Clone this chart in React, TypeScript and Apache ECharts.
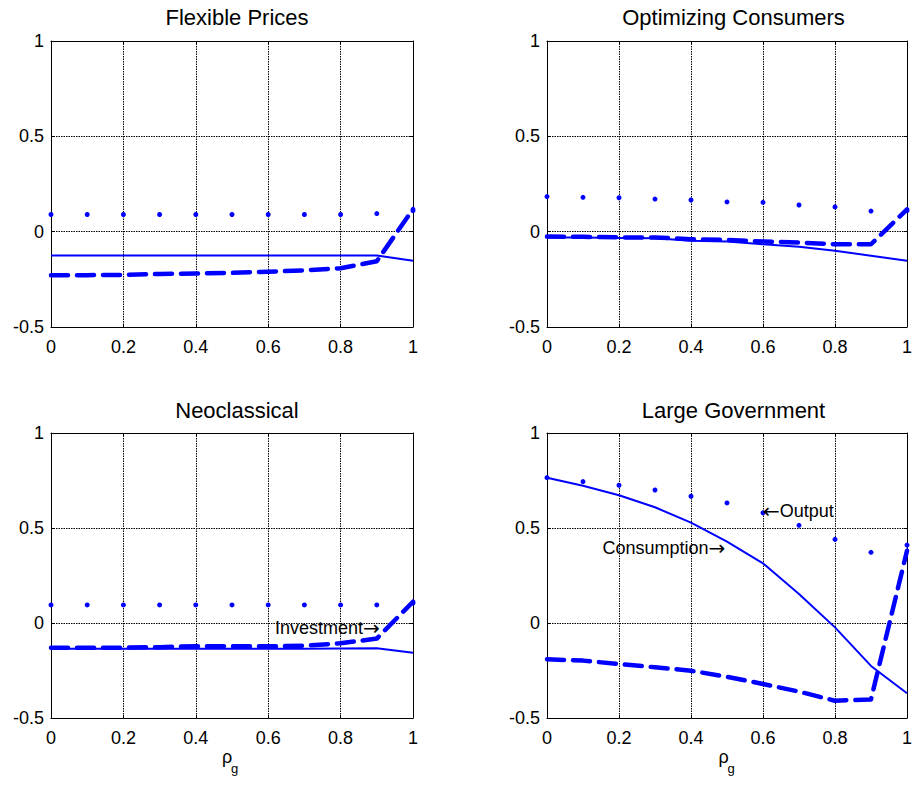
import React, { useEffect, useRef } from "react";
import * as echarts from "echarts";

const rho = [0, 0.1, 0.2, 0.3, 0.4, 0.5, 0.6, 0.7, 0.8, 0.9, 1.0];

const panelTitles = ["Flexible Prices", "Optimizing Consumers", "Neoclassical", "Large Government"];

const flexOutput = [0.09, 0.09, 0.09, 0.09, 0.09, 0.09, 0.09, 0.09, 0.09, 0.095, 0.11];
const flexConsumption = [-0.125, -0.125, -0.125, -0.125, -0.125, -0.125, -0.125, -0.125, -0.125, -0.125, -0.152];
const flexInvestment = [-0.228, -0.228, -0.227, -0.222, -0.219, -0.216, -0.21, -0.203, -0.192, -0.155, 0.118];

const optOutput = [0.184, 0.18, 0.178, 0.171, 0.166, 0.156, 0.154, 0.14, 0.13, 0.108, 0.11];
const optConsumption = [-0.03, -0.031, -0.033, -0.035, -0.047, -0.052, -0.066, -0.079, -0.1, -0.126, -0.152];
const optInvestment = [-0.026, -0.027, -0.03, -0.03, -0.04, -0.043, -0.052, -0.057, -0.066, -0.066, 0.117];

const neoOutput = [0.095, 0.095, 0.095, 0.095, 0.095, 0.095, 0.095, 0.095, 0.095, 0.095, 0.105];
const neoConsumption = [-0.135, -0.135, -0.135, -0.135, -0.135, -0.135, -0.135, -0.135, -0.134, -0.133, -0.156];
const neoInvestment = [-0.13, -0.13, -0.13, -0.127, -0.122, -0.122, -0.123, -0.12, -0.107, -0.082, 0.112];

const govOutput = [0.765, 0.744, 0.725, 0.7, 0.667, 0.632, 0.58, 0.514, 0.44, 0.372, 0.41];
const govConsumption = [0.765, 0.722, 0.672, 0.609, 0.528, 0.428, 0.314, 0.153, -0.023, -0.226, -0.37];
const govInvestment = [-0.191, -0.198, -0.216, -0.233, -0.251, -0.283, -0.321, -0.361, -0.409, -0.402, 0.38];

// annotations: [panel, x, y, label, arrow before?]
const notes: [number, number, number, string, boolean][] = [
  [2, 0.908, -0.026, "Investment", false],
  [3, 0.6, 0.59, "Output", true],
  [3, 0.495, 0.395, "Consumption", false],
];

const yTicks = [-0.5, 0, 0.5, 1];
const xTicks = [0, 0.2, 0.4, 0.6, 0.8, 1];

const FONT = "'Liberation Sans', Arial, Helvetica, sans-serif";
const BLUE = "#0000ff";

export default function App() {
  const ref = useRef<HTMLDivElement>(null);
  useEffect(() => {
    document.body.style.margin = "0";
    const chart = echarts.init(ref.current!, null, { renderer: "svg" });
    const panels = [
      { o: flexOutput, c: flexConsumption, i: flexInvestment },
      { o: optOutput, c: optConsumption, i: optInvestment },
      { o: neoOutput, c: neoConsumption, i: neoInvestment },
      { o: govOutput, c: govConsumption, i: govInvestment },
    ];
    const grids = [
      { left: 51, top: 41, width: 362, height: 286 },
      { left: 547, top: 41, width: 363, height: 286 },
      { left: 51, top: 433, width: 362, height: 285 },
      { left: 547, top: 433, width: 363, height: 285 },
    ];
    const pair = (vals: number[]) => rho.map((x, k) => [x, vals[k]]);
    const xAxis: any[] = [];
    const yAxis: any[] = [];
    const gridLine = { show: true, lineStyle: { color: "#000", type: [1.5, 1], width: 1 } };
    grids.forEach((g, gi) => {
      xAxis.push({
        type: "value", gridIndex: gi, min: xTicks[0], max: 1, interval: 0.2, position: "bottom",
        axisLine: { show: true, onZero: false, lineStyle: { color: "#000", width: 1 } },
        axisTick: { show: true, inside: true, length: 3, lineStyle: { color: "#000" } },
        axisLabel: { color: "#000", fontSize: 18, fontFamily: FONT, margin: 11 },
        splitLine: gridLine,
      });
      yAxis.push({
        type: "value", gridIndex: gi, min: yTicks[0], max: 1, interval: 0.5, position: "left",
        axisLine: { show: true, onZero: false, lineStyle: { color: "#000", width: 1 } },
        axisTick: { show: true, inside: true, length: 3, lineStyle: { color: "#000" } },
        axisLabel: { color: "#000", fontSize: 18, fontFamily: FONT, margin: 7, padding: [3, 0, 0, 0] },
        splitLine: gridLine,
      });
    });
    grids.forEach((g, gi) => {
      xAxis.push({
        type: "value", gridIndex: gi, min: 0, max: 1, interval: 0.2, position: "top",
        axisLine: { show: true, onZero: false, lineStyle: { color: "#000", width: 1 } },
        axisTick: { show: true, inside: true, length: 3, lineStyle: { color: "#000" } },
        axisLabel: { show: false }, splitLine: { show: false },
      });
      yAxis.push({
        type: "value", gridIndex: gi, min: -0.5, max: 1, interval: 0.5, position: "right",
        axisLine: { show: true, onZero: false, lineStyle: { color: "#000", width: 1 } },
        axisTick: { show: true, inside: true, length: 3, lineStyle: { color: "#000" } },
        axisLabel: { show: false }, splitLine: { show: false },
      });
    });
    const series: any[] = [];
    panels.forEach((p, gi) => {
      series.push({
        type: "line", xAxisIndex: gi, yAxisIndex: gi, data: pair(p.c), showSymbol: false,
        lineStyle: { color: BLUE, width: 2 }, z: 3,
      });
      series.push({
        type: "line", xAxisIndex: gi, yAxisIndex: gi, data: pair(p.i), showSymbol: false,
        lineStyle: { color: BLUE, width: 4.5, type: [17, 9], cap: "round", join: "round" }, z: 4,
      });
      series.push({
        type: "scatter", xAxisIndex: gi, yAxisIndex: gi, data: pair(p.o), symbol: "circle",
        symbolSize: 5, itemStyle: { color: BLUE, opacity: 1 }, z: 5,
      });
    });
    const title = grids.map((g, gi) => ({
      text: panelTitles[gi],
      left: g.left + g.width / 2,
      top: gi < 2 ? 1 : 394,
      textAlign: "center",
      textStyle: { color: "#000", fontSize: 22, fontWeight: "normal", fontFamily: FONT },
    }));
    const graphic: any[] = [];
    [grids[2], grids[3]].forEach((g) => {
      const cx = g.left + g.width / 2;
      graphic.push({
        type: "text", x: cx - 10, y: 748,
        style: { text: "\u03c1", fill: "#000", font: `18px ${FONT}`, textAlign: "left", textVerticalAlign: "top" },
      });
      graphic.push({
        type: "text", x: cx - 1, y: 762,
        style: { text: "g", fill: "#000", font: `13px ${FONT}`, textAlign: "left", textVerticalAlign: "top" },
      });
    });
    chart.setOption({
      animation: false,
      backgroundColor: "#fff",
      title,
      grid: grids.map((g) => ({ ...g, containLabel: false })),
      xAxis,
      yAxis,
      series,
      graphic,
    });
    const rich = {
      t: { fontSize: 18, fontFamily: FONT, color: "#000" },
      a: { fontSize: 20, fontFamily: "'DejaVu Sans', sans-serif", color: "#000" },
    };
    notes.forEach(([gi, x, y, label, before]) => {
      const pt = chart.convertToPixel({ gridIndex: gi } as any, [x, y]) as number[];
      graphic.push({
        type: "text", x: pt[0], y: pt[1], z: 10,
        style: {
          text: before ? `{a|\u2190}{t|${label}}` : `{t|${label}}{a|\u2192}`,
          rich,
          textAlign: before ? "left" : "right",
          textVerticalAlign: "middle",
        },
      });
    });
    chart.setOption({ graphic });
    return () => chart.dispose();
  }, []);
  return <div ref={ref} style={{ width: 915, height: 785 }} />;
}
